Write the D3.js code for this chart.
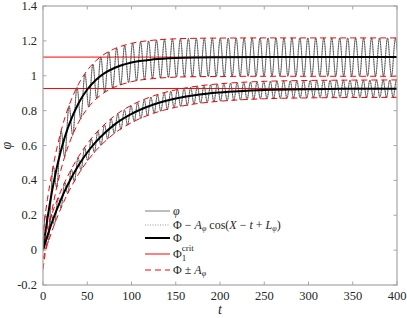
<!DOCTYPE html>
<html>
<head>
<meta charset="utf-8">
<script src="https://cdn.jsdelivr.net/npm/d3@7"></script>
<style>
  html, body { margin: 0; padding: 0; background: #fff; }
  text { font-family: "Liberation Serif", "DejaVu Serif", serif; fill: #262626; }
</style>
</head>
<body>
<div id="chart"></div>
<script>
// values
const tSamples = [0, 5, 10, 15, 20, 25, 30, 40, 50, 60, 70, 80, 100, 125, 150, 175, 200, 250, 300, 350, 400];
const phiUpper = [0, 0.181, 0.332, 0.459, 0.565, 0.654, 0.727, 0.841, 0.921, 0.977, 1.016, 1.043, 1.076, 1.094, 1.102, 1.105, 1.106, 1.107, 1.107, 1.107, 1.107];
const phiLower = [0, 0.082, 0.157, 0.225, 0.287, 0.344, 0.395, 0.485, 0.560, 0.622, 0.673, 0.717, 0.781, 0.835, 0.869, 0.891, 0.904, 0.918, 0.923, 0.925, 0.926];
const critValues = [1.107, 0.927];
const amplitudes = [0.11, 0.05];   // A_phi for upper / lower
const periods = [9, 7.5];          // oscillation period in t
const xTicks = [0, 50, 100, 150, 200, 250, 300, 350, 400];
const yTicks = [-0.2, 0, 0.2, 0.4, 0.6, 0.8, 1, 1.2, 1.4];

const W = 407, H = 318;
const margin = { top: 6, right: 10, bottom: 33, left: 43 };
const width = W - margin.left - margin.right;
const height = H - margin.top - margin.bottom;

const svg = d3.select("#chart").append("svg")
    .attr("width", W).attr("height", H);

const x = d3.scaleLinear().domain([0, 400]).range([margin.left, margin.left + width]);
const y = d3.scaleLinear().domain([-0.2, 1.4]).range([margin.top + height, margin.top]);

svg.append("defs").append("clipPath").attr("id", "clip")
    .append("rect")
    .attr("x", margin.left).attr("y", margin.top)
    .attr("width", width).attr("height", height);

const plot = svg.append("g").attr("clip-path", "url(#clip)");

// mean curve lookup between the read samples
function meanAt(arr, t) {
    const i = Math.min(d3.bisectRight(tSamples, t), tSamples.length - 1);
    const i0 = Math.max(i - 1, 0);
    const t0 = tSamples[i0], t1 = tSamples[i];
    if (t1 === t0) return arr[i0];
    return arr[i0] + (arr[i] - arr[i0]) * (t - t0) / (t1 - t0);
}

const series = [
    { mean: phiUpper, A: amplitudes[0], P: periods[0] },
    { mean: phiLower, A: amplitudes[1], P: periods[1] }
];

const fineT = d3.range(0, 400.01, 0.2);
const line = d3.line().x(d => x(d[0])).y(d => y(d[1]));
const smooth = d3.line().x(d => x(d[0])).y(d => y(d[1])).curve(d3.curveMonotoneX);

// crit lines
critValues.forEach(c => {
    plot.append("line")
        .attr("x1", x(0)).attr("x2", x(400))
        .attr("y1", y(c)).attr("y2", y(c))
        .attr("stroke", "#ff0000").attr("stroke-width", 1);
});

series.forEach(s => {
    const wave = fineT.map(t => [t, meanAt(s.mean, t) + s.A * Math.sin(2 * Math.PI * t / s.P)]);
    const meanPts = tSamples.map((t, i) => [t, s.mean[i]]);
    const upperEnv = tSamples.map((t, i) => [t, s.mean[i] + s.A]);
    const lowerEnv = tSamples.map((t, i) => [t, s.mean[i] - s.A]);

    // phi, thin grey
    plot.append("path").attr("d", line(wave))
        .attr("fill", "none").attr("stroke", "#5a5a5a").attr("stroke-width", 0.8);
    // dotted reconstruction on top
    plot.append("path").attr("d", line(wave))
        .attr("fill", "none").attr("stroke", "#111").attr("stroke-width", 0.5)
        .attr("stroke-dasharray", "1,1.5");
    // envelopes
    [upperEnv, lowerEnv].forEach(env => {
        plot.append("path").attr("d", smooth(env))
            .attr("fill", "none").attr("stroke", "#ff0000").attr("stroke-width", 1)
            .attr("stroke-dasharray", "6,4");
    });
    // mean Phi, thick black
    plot.append("path").attr("d", smooth(meanPts))
        .attr("fill", "none").attr("stroke", "#000").attr("stroke-width", 2);
});

// axes box and ticks
const axisColor = "#a6a6a6";
svg.append("rect")
    .attr("x", margin.left).attr("y", margin.top)
    .attr("width", width).attr("height", height)
    .attr("fill", "none").attr("stroke", axisColor).attr("stroke-width", 1.2);

const tickLen = 3.5;
const ax = svg.append("g");
xTicks.forEach(v => {
    ax.append("line").attr("x1", x(v)).attr("x2", x(v))
        .attr("y1", y(-0.2)).attr("y2", y(-0.2) - tickLen)
        .attr("stroke", axisColor);
    ax.append("line").attr("x1", x(v)).attr("x2", x(v))
        .attr("y1", y(1.4)).attr("y2", y(1.4) + tickLen)
        .attr("stroke", axisColor);
    ax.append("text").attr("x", x(v)).attr("y", 300)
        .attr("text-anchor", "middle").attr("font-size", 12.5).text(v);
});
yTicks.forEach(v => {
    ax.append("line").attr("x1", x(0)).attr("x2", x(0) + tickLen)
        .attr("y1", y(v)).attr("y2", y(v)).attr("stroke", axisColor);
    ax.append("line").attr("x1", x(400)).attr("x2", x(400) - tickLen)
        .attr("y1", y(v)).attr("y2", y(v)).attr("stroke", axisColor);
    ax.append("text").attr("x", 37).attr("y", y(v) + 4)
        .attr("text-anchor", "end").attr("font-size", 12.5).text(v);
});

// axis labels
svg.append("text").attr("x", x(200)).attr("y", 314)
    .attr("text-anchor", "middle").attr("font-size", 14).attr("font-style", "italic").text("t");
svg.append("text").attr("transform", `translate(11,${y(0.6)}) rotate(-90)`)
    .attr("text-anchor", "middle").attr("font-size", 14).attr("font-style", "italic").text("φ");

// legend
const lg = svg.append("g");
const lx0 = 145, lx1 = 170, tx = 173;
const rows = [
    { y: 211, stroke: "#5a5a5a", w: 0.8, dash: null },
    { y: 225, stroke: "#555", w: 0.6, dash: "1,1.5" },
    { y: 238, stroke: "#000", w: 2, dash: null },
    { y: 254, stroke: "#ff0000", w: 1, dash: null },
    { y: 270, stroke: "#ff0000", w: 1, dash: "6,4" }
];
rows.forEach(r => {
    lg.append("line").attr("x1", lx0).attr("x2", lx1).attr("y1", r.y).attr("y2", r.y)
        .attr("stroke", r.stroke).attr("stroke-width", r.w)
        .attr("stroke-dasharray", r.dash);
});
const fs = 12;
function label(yy) {
    return lg.append("text").attr("x", tx).attr("y", yy + 4).attr("font-size", fs);
}
label(rows[0].y).append("tspan").attr("font-style", "italic").text("φ");
{
    const t = label(rows[1].y);
    t.append("tspan").text("Φ − ");
    t.append("tspan").attr("font-style", "italic").text("A");
    t.append("tspan").attr("font-size", 8).attr("font-style", "italic").attr("dy", 2).text("φ");
    t.append("tspan").attr("dy", -2).text(" cos(");
    t.append("tspan").attr("font-style", "italic").text("X");
    t.append("tspan").text(" − ");
    t.append("tspan").attr("font-style", "italic").text("t");
    t.append("tspan").text(" + ");
    t.append("tspan").attr("font-style", "italic").text("L");
    t.append("tspan").attr("font-size", 8).attr("font-style", "italic").attr("dy", 2).text("φ");
    t.append("tspan").attr("dy", -2).text(")");
}
label(rows[2].y).text("Φ");
{
    const t = label(rows[3].y);
    t.append("tspan").text("Φ");
    t.append("tspan").attr("font-size", 9).attr("dy", 3).text("1");
    t.append("tspan").attr("font-size", 9).attr("dx", -4.5).attr("dy", -10).text("crit");
}
{
    const t = label(rows[4].y);
    t.append("tspan").text("Φ ± ");
    t.append("tspan").attr("font-style", "italic").text("A");
    t.append("tspan").attr("font-size", 8).attr("font-style", "italic").attr("dy", 2).text("φ");
}
</script>
</body>
</html>
